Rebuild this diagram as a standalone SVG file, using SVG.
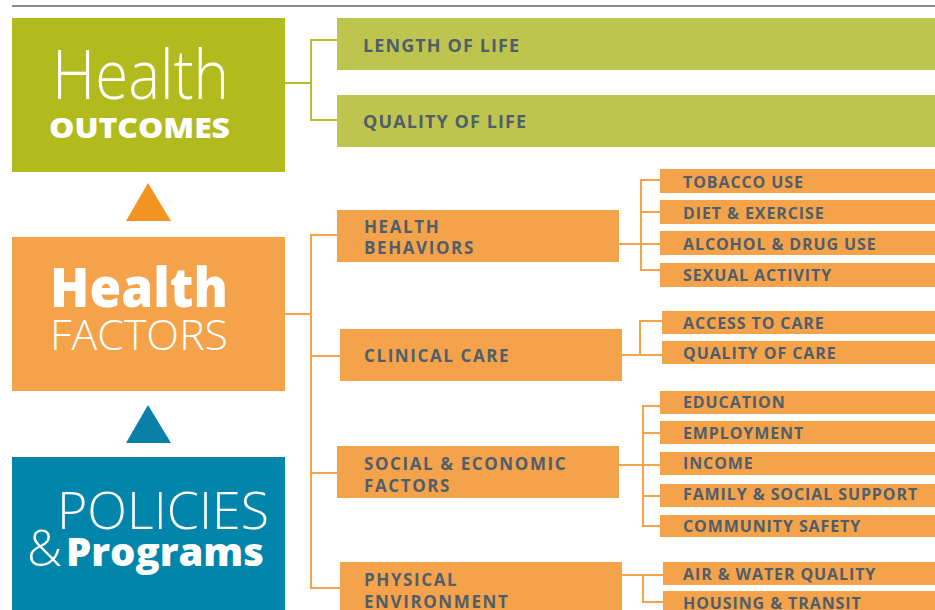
<svg xmlns="http://www.w3.org/2000/svg" width="935" height="610" viewBox="0 0 935 610">
<style>
.bg{fill:#ffffff}
.out{fill:#b2bb1e}
.outsub{fill:#bec54e}
.fac{fill:#f5a34a}
.pol{fill:#0285aa}
.lo{fill:none;stroke:#b5bd2a;stroke-width:2}
.lf{fill:none;stroke:#f5a34a;stroke-width:2}
.big{font-family:"Open Sans","Liberation Sans",sans-serif;fill:#ffffff}
.lt{font-weight:300}
.bk{font-weight:800}
.lab{font-family:"Open Sans","Liberation Sans",sans-serif;font-weight:700;fill:#505e6b}
.l1{font-size:18px;letter-spacing:1.1px}
.l2{font-size:17px;letter-spacing:1.6px}
.l3{font-size:16px;letter-spacing:0.9px}
</style>
<rect class="bg" x="0" y="0" width="935" height="610"/>
<line x1="12" y1="6" x2="935" y2="6" stroke="#8a8a8a" stroke-width="2"/>

<g id="connectors">
  <polyline class="lo" points="285,83 311,83"/>
  <polyline class="lo" points="337,40 311,40 311,120 337,120"/>
  <polyline class="lf" points="285,314 311,314"/>
  <polyline class="lf" points="337,235 311,235 311,588 340,588"/>
  <line class="lf" x1="311" y1="356" x2="340" y2="356"/>
  <line class="lf" x1="311" y1="473" x2="337" y2="473"/>
  <polyline class="lf" points="619,244 641,244"/>
  <polyline class="lf" points="660,180 641,180 641,270 660,270"/>
  <line class="lf" x1="641" y1="212" x2="660" y2="212"/>
  <line class="lf" x1="641" y1="244" x2="660" y2="244"/>
  <polyline class="lf" points="622,355 662,355"/>
  <polyline class="lf" points="662,321 640,321 640,355"/>
  <polyline class="lf" points="619,465 660,465"/>
  <polyline class="lf" points="660,406 643,406 643,526 660,526"/>
  <line class="lf" x1="643" y1="433" x2="660" y2="433"/>
  <line class="lf" x1="643" y1="496" x2="660" y2="496"/>
  <polyline class="lf" points="622,575 663,575"/>
  <polyline class="lf" points="643,575 643,602 663,602"/>
  <polygon points="148,183 171,221 126,221" fill="#f39322"/>
  <polygon points="148,405 171,443 126,443" fill="#0a7fa7"/>
</g>

<g id="health-outcomes">
  <rect class="out" x="12" y="18" width="273" height="154"/>
  <text class="big lt" x="52" y="99" font-size="68" textLength="177" lengthAdjust="spacingAndGlyphs">Health</text>
  <text class="big bk" x="49" y="138" font-size="29" textLength="181" lengthAdjust="spacingAndGlyphs">OUTCOMES</text>
</g>
<g id="length-of-life">
  <rect class="outsub" x="337" y="18" width="598" height="52"/>
  <text class="lab l1" x="363" y="52">LENGTH OF LIFE</text>
</g>
<g id="quality-of-life">
  <rect class="outsub" x="337" y="95" width="598" height="52"/>
  <text class="lab l1" x="363" y="128">QUALITY OF LIFE</text>
</g>

<g id="health-factors">
  <rect class="fac" x="12" y="237" width="273" height="154"/>
  <text class="big bk" x="50" y="307" font-size="54" textLength="178" lengthAdjust="spacingAndGlyphs">Health</text>
  <text class="big lt" x="50" y="350" font-size="42" textLength="178" lengthAdjust="spacingAndGlyphs">FACTORS</text>
</g>

<g id="policies-programs">
  <rect class="pol" x="12" y="457" width="273" height="153"/>
  <text class="big lt" x="57" y="529" font-size="52" textLength="212" lengthAdjust="spacingAndGlyphs">POLICIES</text>
  <text class="big lt" x="27" y="566" font-size="50" textLength="35" lengthAdjust="spacingAndGlyphs">&amp;</text>
  <text class="big bk" x="66" y="566" font-size="38" textLength="198" lengthAdjust="spacingAndGlyphs">Programs</text>
</g>

<g id="health-behaviors">
  <rect class="fac" x="337" y="210" width="282" height="52"/>
  <text class="lab l2" x="364" y="233">HEALTH</text>
  <text class="lab l2" x="364" y="254">BEHAVIORS</text>
</g>
<g id="clinical-care">
  <rect class="fac" x="340" y="329" width="282" height="52"/>
  <text class="lab l2" x="364" y="362">CLINICAL CARE</text>
</g>
<g id="social-economic">
  <rect class="fac" x="337" y="446" width="282" height="52"/>
  <text class="lab l2" x="364" y="470">SOCIAL &amp; ECONOMIC</text>
  <text class="lab l2" x="364" y="492">FACTORS</text>
</g>
<g id="physical-environment">
  <rect class="fac" x="340" y="562" width="282" height="52"/>
  <text class="lab l2" x="364" y="586">PHYSICAL</text>
  <text class="lab l2" x="364" y="608">ENVIRONMENT</text>
</g>

<g id="tobacco-use"><rect class="fac" x="660" y="169" width="275" height="24"/><text class="lab l3" x="683" y="188">TOBACCO USE</text></g>
<g id="diet-exercise"><rect class="fac" x="660" y="200" width="275" height="24"/><text class="lab l3" x="683" y="219">DIET &amp; EXERCISE</text></g>
<g id="alcohol-drug-use"><rect class="fac" x="660" y="231" width="275" height="24"/><text class="lab l3" x="683" y="250">ALCOHOL &amp; DRUG USE</text></g>
<g id="sexual-activity"><rect class="fac" x="660" y="263" width="275" height="24"/><text class="lab l3" x="683" y="281">SEXUAL ACTIVITY</text></g>

<g id="access-to-care"><rect class="fac" x="662" y="311" width="273" height="23"/><text class="lab l3" x="683" y="329">ACCESS TO CARE</text></g>
<g id="quality-of-care"><rect class="fac" x="662" y="341" width="273" height="23"/><text class="lab l3" x="683" y="359">QUALITY OF CARE</text></g>

<g id="education"><rect class="fac" x="660" y="391" width="275" height="23"/><text class="lab l3" x="683" y="408">EDUCATION</text></g>
<g id="employment"><rect class="fac" x="660" y="421" width="275" height="23"/><text class="lab l3" x="683" y="439">EMPLOYMENT</text></g>
<g id="income"><rect class="fac" x="660" y="452" width="275" height="23"/><text class="lab l3" x="683" y="469">INCOME</text></g>
<g id="family-social-support"><rect class="fac" x="660" y="484" width="275" height="23"/><text class="lab l3" x="683" y="500">FAMILY &amp; SOCIAL SUPPORT</text></g>
<g id="community-safety"><rect class="fac" x="660" y="515" width="275" height="22"/><text class="lab l3" x="683" y="532">COMMUNITY SAFETY</text></g>

<g id="air-water-quality"><rect class="fac" x="663" y="562" width="272" height="23"/><text class="lab l3" x="683" y="580">AIR &amp; WATER QUALITY</text></g>
<g id="housing-transit"><rect class="fac" x="663" y="591" width="272" height="23"/><text class="lab l3" x="683" y="609">HOUSING &amp; TRANSIT</text></g>
</svg>
